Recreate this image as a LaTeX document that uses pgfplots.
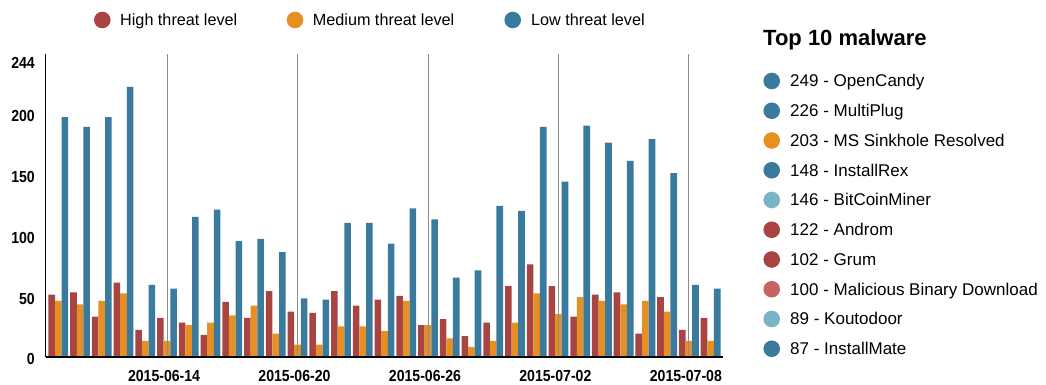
\documentclass[border=0pt]{standalone}
\usepackage{fontspec}
\setmainfont{Liberation Sans}
\newfontfamily\tickfont[FakeStretch=0.88]{Liberation Sans}
\usepackage{pgfplots}
\usepackage{pgfplotstable}
\pgfplotsset{compat=1.18}
\definecolor{cHigh}{HTML}{A84442}
\definecolor{cMed}{HTML}{E68F22}
\definecolor{cLow}{HTML}{3A7B9D}
\definecolor{cLight}{HTML}{7AB3C6}
\definecolor{cPink}{HTML}{C66464}
\definecolor{cGrid}{RGB}{140,140,140}
\pgfplotstableread{
day high med low
1 51 46 197
2 53 43 189
3 33 46 197
4 61 52 222
5 22 13 59
6 32 13 56
7 28 26 115
8 18 28 121
9 45 34 95
10 32 42 97
11 54 19 86
12 37 10 48
13 36 10 47
14 54 25 110
15 42 25 110
16 47 21 93
17 50 46 122
18 26 26 113
19 31 15 65
20 17 8 71
21 28 13 124
22 58 28 120
23 76 52 189
24 58 35 144
25 33 49 190
26 51 46 176
27 53 43 161
28 19 46 179
29 49 37 151
30 22 13 59
31 32 13 56
}\datatable
\begin{document}
\begin{tikzpicture}[x=1pt,y=1pt]
\useasboundingbox (0,0) rectangle (1046,385);
\begin{axis}[
  at={(45.7pt,28.3pt)}, anchor=south west,
  scale only axis, width=677.3pt, height=302.7pt,
  xmin=0.42, xmax=31.57, ymin=0, ymax=249,
  ybar=0pt, bar width=6.6pt,
  axis x line*=bottom, axis y line*=left,
  x axis line style={line width=2pt, -},
  y axis line style={line width=1pt, -},
  major tick length=0pt,
  xtick={6,12,18,24,30},
  xticklabels={2015-06-14,2015-06-20,2015-06-26,2015-07-02,2015-07-08},
  ytick={0,50,100,150,200,244},
  xmajorgrids, grid style={cGrid, line width=0.9pt},
  axis on top,
  /pgf/number format/assume math mode=true,
  xticklabel style={font=\tickfont\bfseries\fontsize{16}{18}\selectfont, anchor=base, yshift=-25pt, xshift=-3pt, inner sep=0pt},
  yticklabel style={font=\tickfont\bfseries\fontsize{16}{18}\selectfont, anchor=east, inner sep=0pt, xshift=-10.7pt, yshift=-2.7pt},
]
\addplot[fill=cHigh, draw=none] table[x=day,y=high]{\datatable};
\addplot[fill=cMed, draw=none] table[x=day,y=med]{\datatable};
\addplot[fill=cLow, draw=none] table[x=day,y=low]{\datatable};
\end{axis}
% top legend
\fill[cHigh] (102.3,365) circle (8.3);
\node[anchor=base west, inner sep=0pt, font=\fontsize{16.2}{18}\selectfont] at (120,359.3) {High threat level};
\fill[cMed] (295,365) circle (8.3);
\node[anchor=base west, inner sep=0pt, font=\fontsize{16.2}{18}\selectfont] at (312.7,359.3) {Medium threat level};
\fill[cLow] (512.7,365) circle (8.3);
\node[anchor=base west, inner sep=0pt, font=\fontsize{16.2}{18}\selectfont] at (531,359.3) {Low threat level};
% right legend
\node[anchor=base west, inner sep=0pt, font=\bfseries\fontsize{22}{24}\selectfont] at (763,339.2) {Top 10 malware};
\foreach \i/\c/\t in {0/cLow/249 - OpenCandy,1/cLow/226 - MultiPlug,2/cMed/203 - MS Sinkhole Resolved,3/cLow/148 - InstallRex,4/cLight/146 - BitCoinMiner,5/cHigh/122 - Androm,6/cHigh/102 - Grum,7/cPink/100 - Malicious Binary Download,8/cLight/89 - Koutodoor,9/cLow/87 - InstallMate}{
  \pgfmathsetmacro{\yc}{385-81-29.75*\i}
  \fill[\c] (771.7,\yc) circle (8.3);
  \node[anchor=base west, inner sep=0pt, font=\fontsize{17}{19}\selectfont] at (790,\yc-6) {\t};
}
\end{tikzpicture}
\end{document}
